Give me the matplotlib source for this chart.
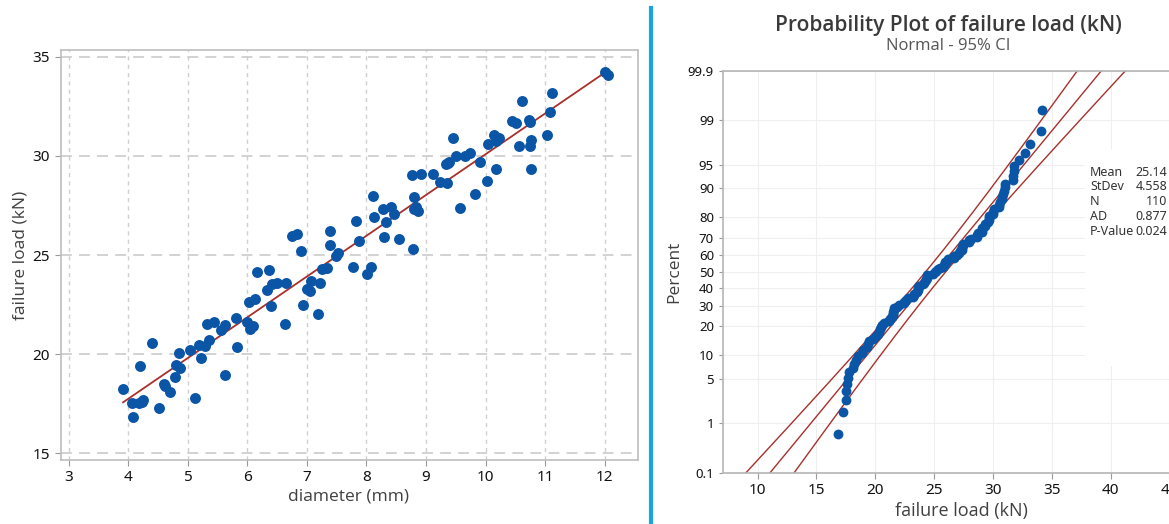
from statistics import NormalDist

import matplotlib

matplotlib.use("Agg")
import matplotlib.pyplot as plt
import numpy as np

plt.rcParams["font.family"] = ["Noto Sans", "DejaVu Sans"]
HEAD = ["Open Sans", "Noto Sans", "DejaVu Sans"]

# scatter data
diameter = [3.91, 4.06, 4.07, 4.17, 4.22, 4.25, 4.19, 4.40, 4.51, 4.60,
            4.61, 4.70, 4.78, 4.80, 4.86, 4.85, 5.03, 5.11, 5.19, 5.22,
            5.28, 5.32, 5.35, 5.43, 5.56, 5.63, 5.63, 5.80, 5.83, 5.99,
            6.02, 6.04, 6.09, 6.13, 6.16, 6.32, 6.37, 6.39, 6.42, 6.50,
            6.64, 6.63, 6.74, 6.83, 6.90, 6.93, 7.00, 7.05, 7.07, 7.19,
            7.22, 7.26, 7.34, 7.39, 7.39, 7.49, 7.52, 7.78, 7.82, 7.87,
            8.01, 8.07, 8.11, 8.13, 8.27, 8.29, 8.33, 8.42, 8.46, 8.55,
            8.77, 8.78, 8.80, 8.79, 8.84, 8.86, 8.92, 9.12, 9.24, 9.33,
            9.37, 9.39, 9.36, 9.45, 9.50, 9.57, 9.65, 9.74, 9.83, 9.91,
            10.03, 10.04, 10.15, 10.17, 10.18, 10.22, 10.44, 10.52, 10.56, 10.62,
            10.73, 10.75, 10.74, 10.77, 10.77, 11.03, 11.08, 11.11, 12.01, 12.06]
load = [18.23, 17.53, 16.85, 17.53, 17.60, 17.70, 19.38, 20.56, 17.29, 18.50,
        18.37, 18.11, 18.87, 19.46, 19.29, 20.05, 20.22, 17.80, 20.47, 19.80,
        20.39, 21.53, 20.72, 21.62, 21.20, 21.48, 18.96, 21.83, 20.34, 21.62,
        22.63, 21.28, 21.41, 22.80, 24.14, 23.25, 24.26, 22.41, 23.55, 23.60,
        23.59, 21.53, 25.94, 26.08, 25.19, 22.46, 23.30, 23.18, 23.69, 22.04,
        23.60, 24.31, 24.36, 26.21, 25.52, 24.93, 25.10, 24.39, 26.70, 25.72,
        24.02, 24.39, 27.96, 26.92, 27.34, 25.91, 26.67, 27.42, 27.09, 25.83,
        29.06, 25.32, 27.93, 27.34, 27.42, 27.22, 29.11, 29.11, 28.69, 29.58,
        29.65, 29.70, 28.64, 30.88, 29.98, 27.37, 29.98, 30.12, 28.10, 29.70,
        28.72, 30.59, 31.04, 30.76, 29.34, 30.91, 31.77, 31.67, 30.52, 32.76,
        31.80, 31.72, 30.49, 30.79, 29.36, 31.04, 32.22, 33.15, 34.21, 34.09]

# summary shown on the probability plot
stat_names = ["Mean", "StDev", "N", "AD", "P-Value"]
stat_values = ["25.14", "4.558", "110", "0.877", "0.024"]
fit_mean = 25.14
fit_sd = 4.558
n_obs = 110

pct_ticks = [0.1, 1, 5, 10, 20, 30, 40, 50, 60, 70, 80, 90, 95, 99, 99.9]
pct_labels = ["0.1", "1", "5", "10", "20", "30", "40", "50", "60", "70",
              "80", "90", "95", "99", "99.9"]
load_ticks = [10, 15, 20, 25, 30, 35, 40, 45]

BLUE = "#0a55a5"
RED = "#a8302c"
TXT = "#404040"
W, H = 1169, 524
nd = NormalDist()


def fig_box(x0, y0, x1, y1):
    return [x0 / W, 1 - y1 / H, (x1 - x0) / W, (y1 - y0) / H]


fig = plt.figure(figsize=(W / 100, H / 100), dpi=100)

# ── left: scatter with fitted line ──
ax = fig.add_axes(fig_box(60.5, 50, 637.5, 460))
ax.scatter(diameter, load, s=62, color=BLUE, zorder=3, linewidths=0)
slope, icpt = np.polyfit(diameter, load, 1)
xs = np.array([min(diameter), max(diameter)])
ax.plot(xs, icpt + slope * xs, color=RED, lw=1.3, zorder=2)
ax.set_xlim(2.858, 12.554)
ax.set_ylim(14.66, 35.34)
ax.set_xticks(range(3, 13))
ax.set_yticks([15, 20, 25, 30, 35])
ax.grid(True, axis="x", color="#cfcfcf", ls=(0, (3, 3)), lw=1.0)
ax.grid(True, axis="y", color="#cfcfcf", ls=(0, (6, 4)), lw=1.3)
ax.set_axisbelow(True)
for s in ax.spines.values():
    s.set_color("#bdbdbd")
    s.set_linewidth(1.2)
ax.tick_params(colors="#9a9a9a", labelcolor="#111111", labelsize=11, length=4)
ax.set_xlabel("diameter (mm)", fontsize=12.5, color=TXT, labelpad=2,
              family=HEAD, fontweight=500)
ax.set_ylabel("failure load (kN)", fontsize=12.5, color=TXT, labelpad=3,
              family=HEAD, fontweight=500)

# divider
fig.add_artist(plt.Line2D([651 / W, 651 / W], [0, 1 - 8 / H],
                          color="#1aa3e3", lw=3, transform=fig.transFigure))

# ── right: normal probability plot ──
bx = fig.add_axes(fig_box(723, 70.7, 1200, 472.7))
srt = np.sort(load)
n = len(srt)
ranks = (np.arange(1, n + 1) - 0.3) / (n + 0.4)
zq = np.array([nd.inv_cdf(p) for p in ranks])
bx.scatter(srt, zq, s=50, color=BLUE, zorder=3, linewidths=0)

zlo, zhi = nd.inv_cdf(0.001), nd.inv_cdf(0.999)
zz = np.linspace(zlo - 0.1, zhi + 0.1, 200)
xfit = fit_mean + zz * fit_sd
half = 1.96 * fit_sd * np.sqrt((1 + zz ** 2 / 2) / n_obs)
for xv in (xfit, xfit - half, xfit + half):
    bx.plot(xv, zz, color=RED, lw=1.0, zorder=2)

bx.set_xlim(7.05, 47.61)
bx.set_ylim(zlo, zhi)
bx.set_yticks([nd.inv_cdf(p / 100) for p in pct_ticks])
bx.set_yticklabels(pct_labels)
bx.set_xticks(load_ticks)
bx.grid(True, color="#efefef", lw=0.8)
bx.set_axisbelow(True)
bx.spines["right"].set_visible(False)
for k in ("left", "top", "bottom"):
    bx.spines[k].set_color("#b5b5b5")
    bx.spines[k].set_linewidth(1.2)
bx.tick_params(axis="y", colors="#9a9a9a", labelcolor="#111111", labelsize=9.5, length=3)
bx.tick_params(axis="x", colors="#9a9a9a", labelcolor="#111111", labelsize=11, length=4)
bx.set_xlabel("failure load (kN)", fontsize=13, color=TXT, labelpad=3,
              family=HEAD, fontweight=500)
bx.set_ylabel("Percent", fontsize=12.5, color=TXT, labelpad=4,
              family=HEAD, fontweight=500)

# white panel behind the stats table
fig.patches.append(plt.Rectangle((1085 / W, 1 - 365 / H), 90 / W, 215 / H,
                                 transform=fig.transFigure, color="white", zorder=1))
for i, (nm, vl) in enumerate(zip(stat_names, stat_values)):
    yy = 1 - (172 + i * 14.8) / H
    fig.text(1090 / W, yy, nm, fontsize=9, color="#333333", va="center", zorder=5)
    fig.text(1167 / W, yy, vl, fontsize=9, color="#333333", va="center", ha="right", zorder=5)

fig.text(948 / W, 1 - 25 / H, "Probability Plot of failure load (kN)",
         fontsize=15, fontweight="semibold", family=HEAD, color="#3a3a3a",
         ha="center", va="center")
fig.text(948 / W, 1 - 46 / H, "Normal - 95% CI", fontsize=12, color="#555555",
         family=HEAD, ha="center", va="center")

fig.savefig("out.png", dpi=100)
